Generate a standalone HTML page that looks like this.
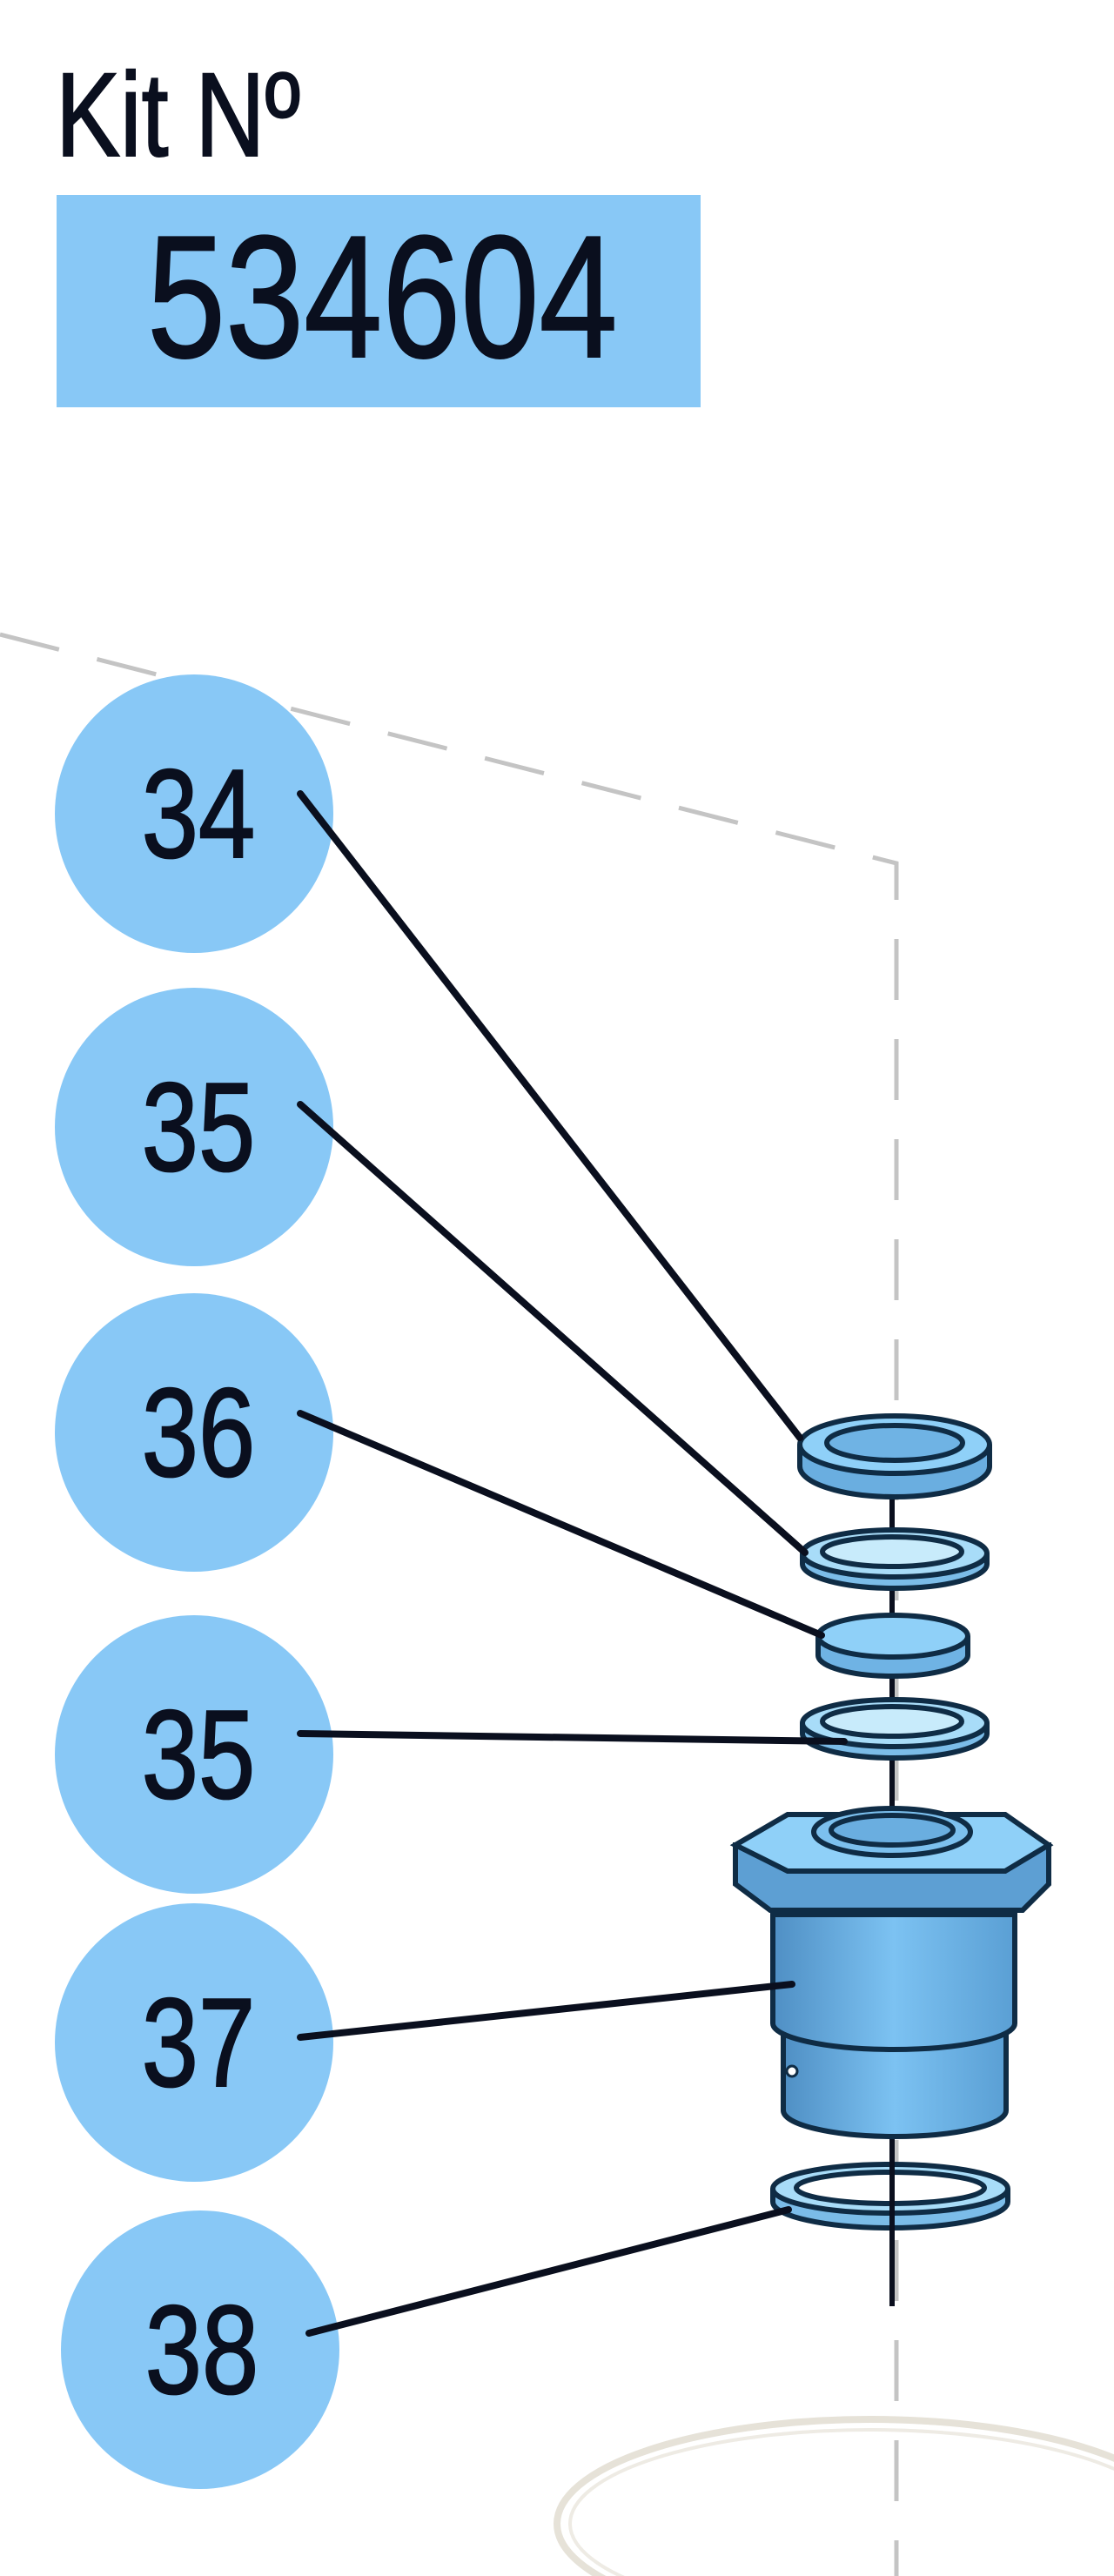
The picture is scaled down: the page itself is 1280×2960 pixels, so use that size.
<!DOCTYPE html>
<html><head><meta charset="utf-8"><style>
html,body{margin:0;padding:0;background:#fff;}
svg{display:block;}
text{font-family:"Liberation Sans",Arial,sans-serif;fill:#0a0f1e;stroke:#0a0f1e;stroke-width:2;}
</style></head><body>
<svg width="1280" height="2960" viewBox="0 0 1280 2960" xmlns="http://www.w3.org/2000/svg">
<defs>
<linearGradient id="cyl" x1="0" x2="1" y1="0" y2="0">
<stop offset="0" stop-color="#4f8fc4"/><stop offset="0.5" stop-color="#7cc2f2"/><stop offset="1" stop-color="#5a9fd4"/>
</linearGradient>
</defs>
<text x="64" y="179" font-size="137" transform="translate(64 0) scale(0.81 1) translate(-64 0)">Kit Nº</text>
<rect x="65" y="224" width="740" height="244" fill="#88c8f6"/>
<text x="169" y="410" font-size="200" transform="translate(169 0) scale(0.81 1) translate(-169 0)">534604</text>

<polyline points="0,729 1030,992 1030,2960" fill="none" stroke="#c4c4c4" stroke-width="5" stroke-dasharray="70,45"/>
<ellipse cx="1000" cy="2900" rx="360" ry="120" fill="none" stroke="#e6e2d8" stroke-width="8"/>
<ellipse cx="1000" cy="2900" rx="345" ry="108" fill="none" stroke="#eeebe4" stroke-width="4"/>

<line x1="1025" y1="1627" x2="1025" y2="2650" stroke="#0a0f1e" stroke-width="6"/>

<g stroke="#0f2c45" stroke-width="6">
<path d="M919,1660 v25 a109,35 0 0 0 218,0 v-25" fill="#6aaee0"/>
<ellipse cx="1028" cy="1660" rx="109" ry="33" fill="#8fd0f8"/>
<ellipse cx="1028" cy="1658" rx="78" ry="20" fill="#6fb3e4"/>
<path d="M922,1785 v12 a106,28 0 0 0 212,0 v-12" fill="#7bbce8"/>
<ellipse cx="1028" cy="1785" rx="106" ry="27" fill="#a8dcf8"/>
<ellipse cx="1025" cy="1783" rx="80" ry="17" fill="#c8ebfb"/>
<path d="M940,1880 v22 a86,24 0 0 0 172,0 v-22" fill="#6fb3e4"/>
<ellipse cx="1026" cy="1880" rx="86" ry="24" fill="#8fd0f8"/>
<path d="M922,1980 v12 a106,28 0 0 0 212,0 v-12" fill="#7bbce8"/>
<ellipse cx="1028" cy="1980" rx="106" ry="27" fill="#a8dcf8"/>
<ellipse cx="1025" cy="1978" rx="80" ry="17" fill="#c8ebfb"/>
<path d="M900,2320 v105 a128,30 0 0 0 256,0 v-105 z" fill="url(#cyl)"/>
<path d="M888,2200 v125 a139,30 0 0 0 278,0 v-125 z" fill="url(#cyl)"/>
<path d="M845,2120 v45 l40,30 h290 l30,-30 v-45 z" fill="#5d9fd3"/>
<path d="M845,2120 l60,-35 h250 l50,35 l-50,30 h-250 z" fill="#8fd0f8"/>
<ellipse cx="1025" cy="2105" rx="90" ry="27" fill="#7cc0ee"/>
<ellipse cx="1025" cy="2103" rx="70" ry="17" fill="#6aaee0"/>
<path d="M888,2515 v15 a135,30 0 0 0 270,0 v-15" fill="#7bbce8"/>
<ellipse cx="1023" cy="2515" rx="135" ry="28" fill="#a8dcf8"/>
<ellipse cx="1023" cy="2514" rx="108" ry="18" fill="#ffffff"/>
</g>
<circle cx="910" cy="2380" r="6" fill="#fff" stroke="#0f2c45" stroke-width="3"/>
<line x1="1025" y1="2480" x2="1025" y2="2650" stroke="#0a0f1e" stroke-width="6"/>

<g fill="#88c8f6">
<circle cx="223" cy="935" r="160"/>
<circle cx="223" cy="1295" r="160"/>
<circle cx="223" cy="1646" r="160"/>
<circle cx="223" cy="2016" r="160"/>
<circle cx="223" cy="2347" r="160"/>
<circle cx="230" cy="2700" r="160"/>
</g>
<g font-size="145" text-anchor="middle">
<text x="228" y="985" transform="translate(228 0) scale(0.81 1) translate(-228 0)">34</text>
<text x="228" y="1345" transform="translate(228 0) scale(0.81 1) translate(-228 0)">35</text>
<text x="228" y="1696" transform="translate(228 0) scale(0.81 1) translate(-228 0)">36</text>
<text x="228" y="2066" transform="translate(228 0) scale(0.81 1) translate(-228 0)">35</text>
<text x="228" y="2397" transform="translate(228 0) scale(0.81 1) translate(-228 0)">37</text>
<text x="232" y="2750" transform="translate(232 0) scale(0.81 1) translate(-232 0)">38</text>
</g>

<g stroke="#0a0f1e" stroke-width="8" stroke-linecap="round">
<line x1="345" y1="912" x2="919" y2="1652"/>
<line x1="345" y1="1269" x2="925" y2="1784"/>
<line x1="345" y1="1624" x2="944" y2="1879"/>
<line x1="345" y1="1992" x2="970" y2="2001"/>
<line x1="345" y1="2341" x2="910" y2="2280"/>
<line x1="355" y1="2681" x2="906" y2="2539"/>
</g>
</svg>
</body></html>
